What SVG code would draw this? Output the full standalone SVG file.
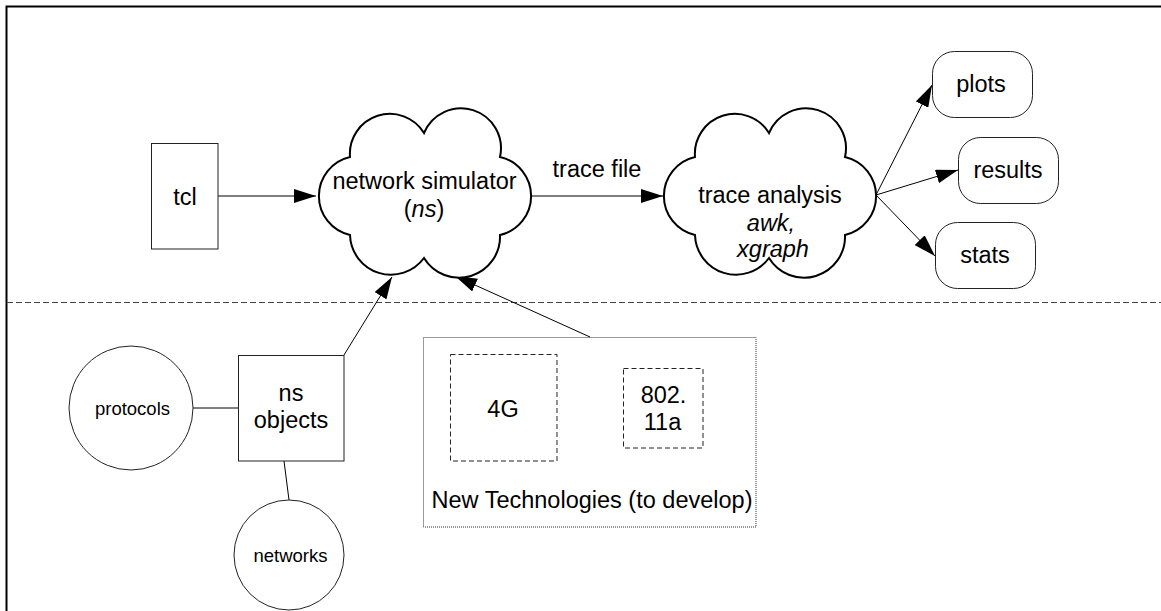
<svg xmlns="http://www.w3.org/2000/svg" width="1161" height="611" viewBox="0 0 1161 611">
<style>
text{font-family:"Liberation Sans",Arial,sans-serif;font-size:23.5px;fill:#000;text-anchor:middle}
.sm{font-size:18.5px}
.it{font-style:italic}
.box{fill:#fff;stroke:#222;stroke-width:1}
.cloud{fill:#fff;stroke:#000;stroke-width:2}
.dash{fill:none;stroke:#222;stroke-width:1;stroke-dasharray:5,3}
.dot{fill:none;stroke:#333;stroke-width:1;stroke-dasharray:1,1}
.conn{fill:none;stroke:#000;stroke-width:1}
</style>
<defs>
<marker id="ah" markerUnits="userSpaceOnUse" markerWidth="22" markerHeight="14" refX="22" refY="7" orient="auto" viewBox="0 0 22 14">
<path d="M0,0 L22,7 L0,14 z" fill="#000"/>
</marker>
<path id="cloudShape" d="M350,157 A40,40 0 0,1 424,133 A40,40 0 0,1 500,157 A40,40 0 0,1 500,235 A41,41 0 0,1 424,258 A41,41 0 0,1 350,235 A40,40 0 0,1 350,157 z"/>
</defs>
<rect width="1161" height="611" fill="#fff"/>
<path d="M6.5,611 V6.5 H1161" fill="none" stroke="#000" stroke-width="2"/>
<line x1="7" y1="302.5" x2="1161" y2="302.5" stroke="#444" stroke-width="1" stroke-dasharray="6,3"/>

<g id="connectors">
<line class="conn" x1="218" y1="196" x2="316" y2="196" marker-end="url(#ah)"/>
<line class="conn" x1="532" y1="196" x2="663" y2="196" marker-end="url(#ah)"/>
<line class="conn" x1="876" y1="195" x2="932" y2="85" marker-end="url(#ah)"/>
<line class="conn" x1="876" y1="195" x2="958" y2="170" marker-end="url(#ah)"/>
<line class="conn" x1="876" y1="195" x2="935" y2="256" marker-end="url(#ah)"/>
<line class="conn" x1="344" y1="355" x2="392" y2="277" marker-end="url(#ah)"/>
<line class="conn" x1="590" y1="337" x2="455" y2="276" marker-end="url(#ah)"/>
<line class="conn" x1="193" y1="408" x2="238" y2="408"/>
<line class="conn" x1="284" y1="461" x2="289" y2="500"/>
</g>

<g id="tcl">
<rect class="box" x="151.5" y="143.5" width="66.5" height="105.5"/>
<text x="185" y="205">tcl</text>
</g>

<g id="network-simulator">
<use href="#cloudShape" class="cloud"/>
<text x="424.5" y="189">network simulator</text>
<text x="424" y="217">(<tspan class="it">ns</tspan>)</text>
</g>

<g id="trace-file-label">
<text x="597" y="177">trace file</text>
</g>

<g id="trace-analysis">
<use href="#cloudShape" class="cloud" transform="translate(345,0)"/>
<text x="770" y="203">trace analysis</text>
<text x="771" y="231" class="it">awk,</text>
<text x="773" y="257" class="it">xgraph</text>
</g>

<g id="plots">
<rect class="box" x="932.5" y="51.5" width="100" height="66" rx="22" ry="22"/>
<text x="981" y="92">plots</text>
</g>
<g id="results">
<rect class="box" x="958.5" y="137.5" width="100" height="66" rx="22" ry="22"/>
<text x="1008" y="178">results</text>
</g>
<g id="stats">
<rect class="box" x="935.5" y="222.5" width="100" height="66" rx="22" ry="22"/>
<text x="985" y="263">stats</text>
</g>

<g id="ns-objects">
<rect class="box" x="238.5" y="355.5" width="105.5" height="105.5"/>
<text x="291" y="400.5">ns</text>
<text x="291" y="428">objects</text>
</g>

<g id="protocols">
<circle class="box" cx="131" cy="408" r="62"/>
<text x="132.5" y="415" class="sm">protocols</text>
</g>

<g id="networks">
<circle class="box" cx="289" cy="555" r="55"/>
<text x="290.5" y="561.5" class="sm">networks</text>
</g>

<g id="new-technologies">
<rect class="dot" x="423.5" y="337.5" width="332.5" height="189.5"/>
<text x="592" y="508">New Technologies (to develop)</text>
</g>

<g id="g4">
<rect class="dash" x="450.5" y="354.5" width="106.5" height="106.5"/>
<text x="503" y="416.5">4G</text>
</g>

<g id="wifi">
<rect class="dash" x="623.5" y="368.5" width="79.5" height="79.5"/>
<text x="663.5" y="402.5">802.</text>
<text x="662.5" y="430">11a</text>
</g>
</svg>
